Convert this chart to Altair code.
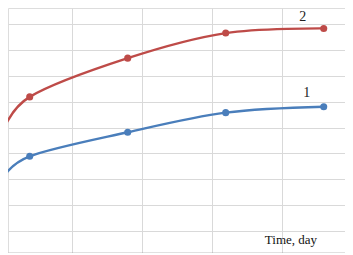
import altair as alt
import pandas as pd

# data (time in days, value)
days = [0, 2, 9, 16, 23]
series1 = [29.7, 38.9, 48.2, 55.8, 58.1]   # blue, curve "1"
series2 = [47.2, 61.9, 76.9, 86.6, 88.4]   # red, curve "2"

grid_x = [0, 5, 10, 15, 20, 25]
grid_y = [10, 20, 30, 40, 50, 60, 70, 80, 90]

label_text = ["2", "1"]
label_t = [21.5, 21.79]
label_v = [92.9, 63.5]

blue = "#4A7EBB"
red = "#BE4B48"

rows = []
for d, a, b in zip(days, series1, series2):
    rows.append({"t": d, "v": a, "s": "1"})
    rows.append({"t": d, "v": b, "s": "2"})
df = pd.DataFrame(rows)

labels = pd.DataFrame({"text": label_text, "t": label_t, "v": label_v})
title_df = pd.DataFrame({"text": ["Time, day"], "t": [20.66], "v": [6.5]})

xs = alt.Scale(domain=[0.45, 24.52], nice=False, zero=False)
ys = alt.Scale(domain=[1.486, 96.3], nice=False, zero=False)
cs = alt.Scale(domain=["1", "2"], range=[blue, red])

X = alt.X("t:Q", scale=xs,
          axis=alt.Axis(values=grid_x, tickCount=20, grid=True, gridColor="#D9D9D9", gridWidth=1,
                        labels=False, ticks=False, domain=True, domainColor="#868686",
                        domainWidth=1.5, title=None))
Y = alt.Y("v:Q", scale=ys,
          axis=alt.Axis(values=grid_y, tickCount=20, grid=True, gridColor="#D9D9D9", gridWidth=1,
                        labels=False, ticks=False, domain=False, title=None))

lines = alt.Chart(df).mark_line(interpolate="cardinal", clip=True, strokeWidth=2.4).encode(
    x=X, y=Y, color=alt.Color("s:N", scale=cs, legend=None)
)
points = alt.Chart(df).transform_filter("datum.t > 0").mark_point(
    filled=True, size=50, opacity=1, clip=True
).encode(
    x=alt.X("t:Q", scale=xs), y=alt.Y("v:Q", scale=ys),
    color=alt.Color("s:N", scale=cs, legend=None)
)
texts = alt.Chart(labels).mark_text(font="Liberation Serif", fontSize=14, color="#222222").encode(
    x=alt.X("t:Q", scale=xs), y=alt.Y("v:Q", scale=ys), text="text:N"
)
title = alt.Chart(title_df).mark_text(font="Liberation Serif", fontSize=13, color="#111111").encode(
    x=alt.X("t:Q", scale=xs), y=alt.Y("v:Q", scale=ys), text="text:N"
)

chart = alt.layer(lines, points, texts, title).properties(
    width=337, height=245, autosize=alt.AutoSizeParams(type="none"), padding=0
).configure_view(stroke=None).configure(background="white")

chart.save("out.html", embed_options={"renderer": "svg", "actions": False})
